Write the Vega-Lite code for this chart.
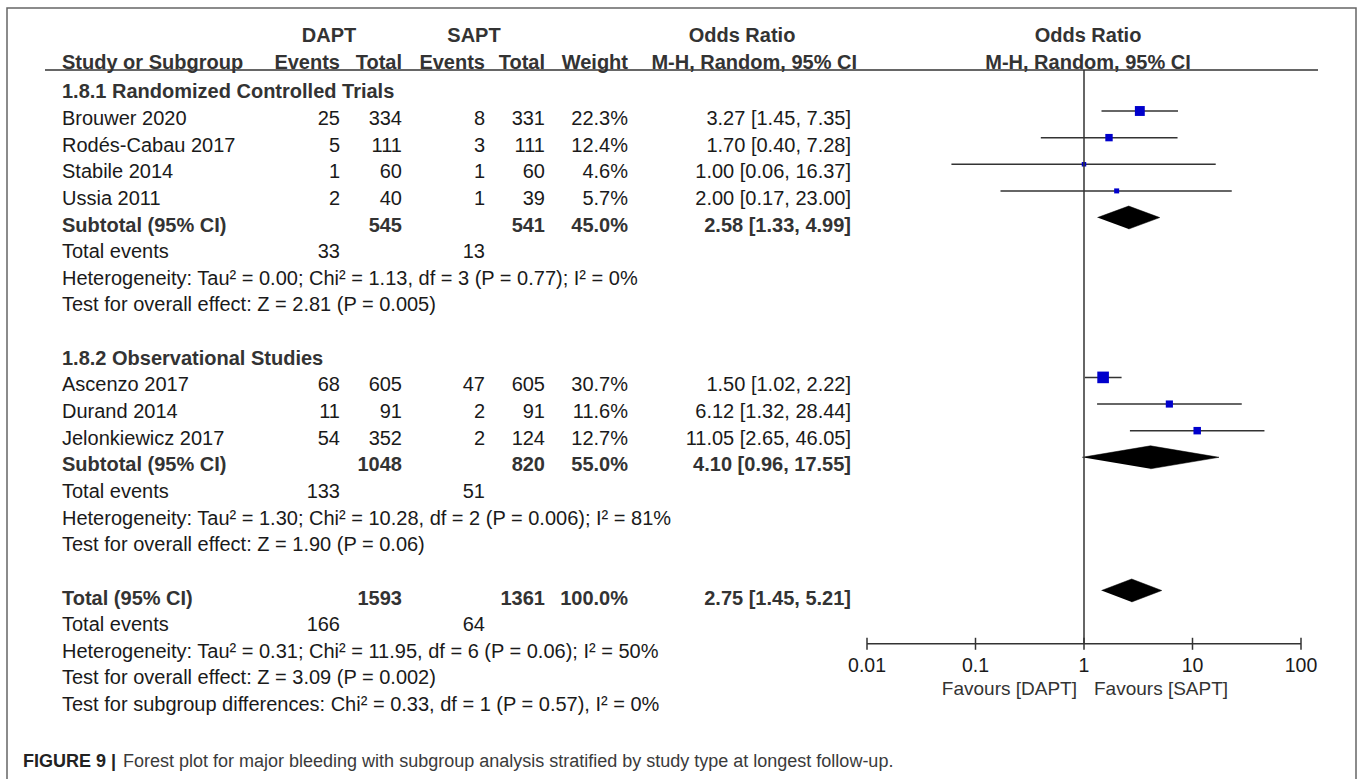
{
  "$schema": "https://vega.github.io/schema/vega-lite/v6.json",
  "width": 1349,
  "height": 783,
  "autosize": {"type": "none"},
  "padding": {"left": 7, "top": 8, "right": 1, "bottom": -12},
  "background": "white",
  "config": {
    "view": {"stroke": "#666666", "strokeWidth": 1.5},
    "text": {"font": "Liberation Sans", "fontSize": 20, "baseline": "middle", "color": "#1a1a1a"}
  },
  "datasets": {
    "cells": [
      {"row": 0, "col": 1, "kind": "grouphead", "text": "DAPT"},
      {"row": 0, "col": 3, "kind": "grouphead", "text": "SAPT"},
      {"row": 0, "col": 6, "kind": "orhead", "text": "Odds Ratio"},
      {"row": 1, "col": 0, "kind": "colhead", "text": "Study or Subgroup"},
      {"row": 1, "col": 1, "kind": "colhead", "text": "Events"},
      {"row": 1, "col": 2, "kind": "colhead", "text": "Total"},
      {"row": 1, "col": 3, "kind": "colhead", "text": "Events"},
      {"row": 1, "col": 4, "kind": "colhead", "text": "Total"},
      {"row": 1, "col": 5, "kind": "colhead", "text": "Weight"},
      {"row": 1, "col": 6, "kind": "mhhead", "text": "M-H, Random, 95% CI"},
      {"row": 2, "col": 0, "kind": "group", "text": "1.8.1 Randomized Controlled Trials"},
      {"row": 3, "col": 0, "kind": "study", "text": "Brouwer 2020"},
      {"row": 3, "col": 1, "kind": "study", "text": "25"},
      {"row": 3, "col": 2, "kind": "study", "text": "334"},
      {"row": 3, "col": 3, "kind": "study", "text": "8"},
      {"row": 3, "col": 4, "kind": "study", "text": "331"},
      {"row": 3, "col": 5, "kind": "study", "text": "22.3%"},
      {"row": 3, "col": 6, "kind": "study", "text": "3.27 [1.45, 7.35]"},
      {"row": 4, "col": 0, "kind": "study", "text": "Rodés-Cabau 2017"},
      {"row": 4, "col": 1, "kind": "study", "text": "5"},
      {"row": 4, "col": 2, "kind": "study", "text": "111"},
      {"row": 4, "col": 3, "kind": "study", "text": "3"},
      {"row": 4, "col": 4, "kind": "study", "text": "111"},
      {"row": 4, "col": 5, "kind": "study", "text": "12.4%"},
      {"row": 4, "col": 6, "kind": "study", "text": "1.70 [0.40, 7.28]"},
      {"row": 5, "col": 0, "kind": "study", "text": "Stabile 2014"},
      {"row": 5, "col": 1, "kind": "study", "text": "1"},
      {"row": 5, "col": 2, "kind": "study", "text": "60"},
      {"row": 5, "col": 3, "kind": "study", "text": "1"},
      {"row": 5, "col": 4, "kind": "study", "text": "60"},
      {"row": 5, "col": 5, "kind": "study", "text": "4.6%"},
      {"row": 5, "col": 6, "kind": "study", "text": "1.00 [0.06, 16.37]"},
      {"row": 6, "col": 0, "kind": "study", "text": "Ussia 2011"},
      {"row": 6, "col": 1, "kind": "study", "text": "2"},
      {"row": 6, "col": 2, "kind": "study", "text": "40"},
      {"row": 6, "col": 3, "kind": "study", "text": "1"},
      {"row": 6, "col": 4, "kind": "study", "text": "39"},
      {"row": 6, "col": 5, "kind": "study", "text": "5.7%"},
      {"row": 6, "col": 6, "kind": "study", "text": "2.00 [0.17, 23.00]"},
      {"row": 7, "col": 0, "kind": "sub", "text": "Subtotal (95% CI)"},
      {"row": 7, "col": 2, "kind": "sub", "text": "545"},
      {"row": 7, "col": 4, "kind": "sub", "text": "541"},
      {"row": 7, "col": 5, "kind": "sub", "text": "45.0%"},
      {"row": 7, "col": 6, "kind": "sub", "text": "2.58 [1.33, 4.99]"},
      {"row": 8, "col": 0, "kind": "events", "text": "Total events"},
      {"row": 8, "col": 1, "kind": "events", "text": "33"},
      {"row": 8, "col": 3, "kind": "events", "text": "13"},
      {"row": 9, "col": 0, "kind": "stat", "text": "Heterogeneity: Tau² = 0.00; Chi² = 1.13, df = 3 (P = 0.77); I² = 0%"},
      {"row": 10, "col": 0, "kind": "stat", "text": "Test for overall effect: Z = 2.81 (P = 0.005)"},
      {"row": 12, "col": 0, "kind": "group", "text": "1.8.2 Observational Studies"},
      {"row": 13, "col": 0, "kind": "study", "text": "Ascenzo 2017"},
      {"row": 13, "col": 1, "kind": "study", "text": "68"},
      {"row": 13, "col": 2, "kind": "study", "text": "605"},
      {"row": 13, "col": 3, "kind": "study", "text": "47"},
      {"row": 13, "col": 4, "kind": "study", "text": "605"},
      {"row": 13, "col": 5, "kind": "study", "text": "30.7%"},
      {"row": 13, "col": 6, "kind": "study", "text": "1.50 [1.02, 2.22]"},
      {"row": 14, "col": 0, "kind": "study", "text": "Durand 2014"},
      {"row": 14, "col": 1, "kind": "study", "text": "11"},
      {"row": 14, "col": 2, "kind": "study", "text": "91"},
      {"row": 14, "col": 3, "kind": "study", "text": "2"},
      {"row": 14, "col": 4, "kind": "study", "text": "91"},
      {"row": 14, "col": 5, "kind": "study", "text": "11.6%"},
      {"row": 14, "col": 6, "kind": "study", "text": "6.12 [1.32, 28.44]"},
      {"row": 15, "col": 0, "kind": "study", "text": "Jelonkiewicz 2017"},
      {"row": 15, "col": 1, "kind": "study", "text": "54"},
      {"row": 15, "col": 2, "kind": "study", "text": "352"},
      {"row": 15, "col": 3, "kind": "study", "text": "2"},
      {"row": 15, "col": 4, "kind": "study", "text": "124"},
      {"row": 15, "col": 5, "kind": "study", "text": "12.7%"},
      {"row": 15, "col": 6, "kind": "study", "text": "11.05 [2.65, 46.05]"},
      {"row": 16, "col": 0, "kind": "sub", "text": "Subtotal (95% CI)"},
      {"row": 16, "col": 2, "kind": "sub", "text": "1048"},
      {"row": 16, "col": 4, "kind": "sub", "text": "820"},
      {"row": 16, "col": 5, "kind": "sub", "text": "55.0%"},
      {"row": 16, "col": 6, "kind": "sub", "text": "4.10 [0.96, 17.55]"},
      {"row": 17, "col": 0, "kind": "events", "text": "Total events"},
      {"row": 17, "col": 1, "kind": "events", "text": "133"},
      {"row": 17, "col": 3, "kind": "events", "text": "51"},
      {"row": 18, "col": 0, "kind": "stat", "text": "Heterogeneity: Tau² = 1.30; Chi² = 10.28, df = 2 (P = 0.006); I² = 81%"},
      {"row": 19, "col": 0, "kind": "stat", "text": "Test for overall effect: Z = 1.90 (P = 0.06)"},
      {"row": 21, "col": 0, "kind": "sub", "text": "Total (95% CI)"},
      {"row": 21, "col": 2, "kind": "sub", "text": "1593"},
      {"row": 21, "col": 4, "kind": "sub", "text": "1361"},
      {"row": 21, "col": 5, "kind": "sub", "text": "100.0%"},
      {"row": 21, "col": 6, "kind": "sub", "text": "2.75 [1.45, 5.21]"},
      {"row": 22, "col": 0, "kind": "events", "text": "Total events"},
      {"row": 22, "col": 1, "kind": "events", "text": "166"},
      {"row": 22, "col": 3, "kind": "events", "text": "64"},
      {"row": 23, "col": 0, "kind": "stat", "text": "Heterogeneity: Tau² = 0.31; Chi² = 11.95, df = 6 (P = 0.06); I² = 50%"},
      {"row": 24, "col": 0, "kind": "stat", "text": "Test for overall effect: Z = 3.09 (P = 0.002)"},
      {"row": 25, "col": 0, "kind": "stat", "text": "Test for subgroup differences: Chi² = 0.33, df = 1 (P = 0.57), I² = 0%"},
      {"row": 27, "col": -2, "kind": "capbold", "text": "FIGURE 9 |"},
      {"row": 27, "col": -2, "kind": "cap", "text": "Forest plot for major bleeding with subgroup analysis stratified by study type at longest follow-up."}
    ],
    "studies": [
      {"row": 3, "study": "Brouwer 2020", "or": 3.27, "lo": 1.45, "hi": 7.35, "w": 22.3},
      {"row": 4, "study": "Rodés-Cabau 2017", "or": 1.70, "lo": 0.40, "hi": 7.28, "w": 12.4},
      {"row": 5, "study": "Stabile 2014", "or": 1.00, "lo": 0.06, "hi": 16.37, "w": 4.6},
      {"row": 6, "study": "Ussia 2011", "or": 2.00, "lo": 0.17, "hi": 23.00, "w": 5.7},
      {"row": 13, "study": "Ascenzo 2017", "or": 1.50, "lo": 1.02, "hi": 2.22, "w": 30.7},
      {"row": 14, "study": "Durand 2014", "or": 6.12, "lo": 1.32, "hi": 28.44, "w": 11.6},
      {"row": 15, "study": "Jelonkiewicz 2017", "or": 11.05, "lo": 2.65, "hi": 46.05, "w": 12.7}
    ],
    "diamonds": [
      {"g": "Subtotal 1.8.1", "row": 7, "x": 1.33, "v": 0, "k": 1},
      {"g": "Subtotal 1.8.1", "row": 7, "x": 2.58, "v": -1, "k": 2},
      {"g": "Subtotal 1.8.1", "row": 7, "x": 4.99, "v": 0, "k": 3},
      {"g": "Subtotal 1.8.1", "row": 7, "x": 2.58, "v": 1, "k": 4},
      {"g": "Subtotal 1.8.2", "row": 16, "x": 0.96, "v": 0, "k": 1},
      {"g": "Subtotal 1.8.2", "row": 16, "x": 4.10, "v": -1, "k": 2},
      {"g": "Subtotal 1.8.2", "row": 16, "x": 17.55, "v": 0, "k": 3},
      {"g": "Subtotal 1.8.2", "row": 16, "x": 4.10, "v": 1, "k": 4},
      {"g": "Total", "row": 21, "x": 1.45, "v": 0, "k": 1},
      {"g": "Total", "row": 21, "x": 2.75, "v": -1, "k": 2},
      {"g": "Total", "row": 21, "x": 5.21, "v": 0, "k": 3},
      {"g": "Total", "row": 21, "x": 2.75, "v": 1, "k": 4}
    ],
    "ticks": [
      {"v": 0.01, "label": "0.01"},
      {"v": 0.1, "label": "0.1"},
      {"v": 1, "label": "1"},
      {"v": 10, "label": "10"},
      {"v": 100, "label": "100"}
    ],
    "forestHead": [
      {"row": 0, "text": "Odds Ratio"},
      {"row": 1, "text": "M-H, Random, 95% CI"}
    ]
  },
  "layer": [
    {
      "layer": [
        {
          "data": {"name": "cells"},
          "transform": [{"filter": "datum.col <= 0 && (datum.kind == 'study' || datum.kind == 'events' || datum.kind == 'stat')"}],
          "mark": {"type": "text", "align": "left", "dy": 8},
          "encoding": {
            "x": {"field": "col", "type": "quantitative", "axis": null, "scale": {"domain": [-2, -1, 0, 1, 2, 3, 4, 5, 6, 7], "range": [16, 38, 55, 333, 395, 478, 538, 621, 844, 1311], "nice": false, "zero": false}},
            "y": {"field": "row", "type": "quantitative", "axis": null, "scale": {"domain": [-0.866, 28.526], "reverse": true, "nice": false, "zero": false}},
            "text": {"field": "text"}
          }
        },
        {
          "data": {"name": "cells"},
          "transform": [{"filter": "datum.col <= 0 && (datum.kind == 'group' || datum.kind == 'sub')"}],
          "mark": {"type": "text", "align": "left", "dy": 8, "fontWeight": "bold", "color": "#333333"},
          "encoding": {
            "x": {"field": "col", "type": "quantitative", "axis": null},
            "y": {"field": "row", "type": "quantitative", "axis": null},
            "text": {"field": "text"}
          }
        },
        {
          "data": {"name": "cells"},
          "transform": [{"filter": "datum.col > 0 && (datum.kind == 'study' || datum.kind == 'events')"}],
          "mark": {"type": "text", "align": "right", "dy": 8},
          "encoding": {
            "x": {"field": "col", "type": "quantitative", "axis": null},
            "y": {"field": "row", "type": "quantitative", "axis": null},
            "text": {"field": "text"}
          }
        },
        {
          "data": {"name": "cells"},
          "transform": [{"filter": "datum.col > 0 && datum.kind == 'sub'"}],
          "mark": {"type": "text", "align": "right", "dy": 8, "fontWeight": "bold", "color": "#333333"},
          "encoding": {
            "x": {"field": "col", "type": "quantitative", "axis": null},
            "y": {"field": "row", "type": "quantitative", "axis": null},
            "text": {"field": "text"}
          }
        },
        {
          "data": {"name": "cells"},
          "transform": [{"filter": "datum.kind == 'colhead' && datum.col == 0"}],
          "mark": {"type": "text", "align": "left", "dy": 5, "fontWeight": "bold", "color": "#333333"},
          "encoding": {
            "x": {"field": "col", "type": "quantitative", "axis": null},
            "y": {"field": "row", "type": "quantitative", "axis": null},
            "text": {"field": "text"}
          }
        },
        {
          "data": {"name": "cells"},
          "transform": [{"filter": "datum.kind == 'colhead' && datum.col > 0"}],
          "mark": {"type": "text", "align": "right", "dy": 5, "fontWeight": "bold", "color": "#333333"},
          "encoding": {
            "x": {"field": "col", "type": "quantitative", "axis": null},
            "y": {"field": "row", "type": "quantitative", "axis": null},
            "text": {"field": "text"}
          }
        },
        {
          "data": {"name": "cells"},
          "transform": [{"filter": "datum.kind == 'grouphead'"}],
          "mark": {"type": "text", "align": "center", "dx": -11, "dy": 5, "fontWeight": "bold", "color": "#333333"},
          "encoding": {
            "x": {"field": "col", "type": "quantitative", "axis": null},
            "y": {"field": "row", "type": "quantitative", "axis": null},
            "text": {"field": "text"}
          }
        },
        {
          "data": {"name": "cells"},
          "transform": [{"filter": "datum.kind == 'orhead'"}],
          "mark": {"type": "text", "align": "center", "dx": -109, "dy": 5, "fontWeight": "bold", "color": "#333333"},
          "encoding": {
            "x": {"field": "col", "type": "quantitative", "axis": null},
            "y": {"field": "row", "type": "quantitative", "axis": null},
            "text": {"field": "text"}
          }
        },
        {
          "data": {"name": "cells"},
          "transform": [{"filter": "datum.kind == 'mhhead'"}],
          "mark": {"type": "text", "align": "right", "dx": 6, "dy": 5, "fontWeight": "bold", "color": "#333333"},
          "encoding": {
            "x": {"field": "col", "type": "quantitative", "axis": null},
            "y": {"field": "row", "type": "quantitative", "axis": null},
            "text": {"field": "text"}
          }
        },
        {
          "data": {"name": "cells"},
          "transform": [{"filter": "datum.kind == 'capbold'"}],
          "mark": {"type": "text", "align": "left", "dy": 12, "fontSize": 18, "fontWeight": "bold", "color": "#222222"},
          "encoding": {
            "x": {"field": "col", "type": "quantitative", "axis": null},
            "y": {"field": "row", "type": "quantitative", "axis": null},
            "text": {"field": "text"}
          }
        },
        {
          "data": {"name": "cells"},
          "transform": [{"filter": "datum.kind == 'cap'"}],
          "mark": {"type": "text", "align": "left", "dx": 100, "dy": 12, "fontSize": 18, "color": "#3a3a3a"},
          "encoding": {
            "x": {"field": "col", "type": "quantitative", "axis": null},
            "y": {"field": "row", "type": "quantitative", "axis": null},
            "text": {"field": "text"}
          }
        },
        {
          "data": {"values": [{}]},
          "mark": {"type": "rule", "color": "#333333", "strokeWidth": 1.5},
          "encoding": {
            "x": {"datum": -1, "type": "quantitative", "axis": null},
            "x2": {"datum": 7},
            "y": {"datum": 1.46, "type": "quantitative", "axis": null}
          }
        }
      ]
    },
    {
      "layer": [
        {
          "data": {"name": "studies"},
          "mark": {"type": "rule", "color": "#333333", "strokeWidth": 1.5},
          "encoding": {
            "x": {"field": "lo", "type": "quantitative", "axis": null, "scale": {"type": "log", "domain": [0.01, 100], "range": [860, 1294], "nice": false}},
            "x2": {"field": "hi"},
            "y": {"field": "row", "type": "quantitative", "axis": null}
          }
        },
        {
          "data": {"name": "studies"},
          "mark": {"type": "point", "shape": "square", "filled": true, "color": "#0000cc", "opacity": 1},
          "encoding": {
            "x": {"field": "or", "type": "quantitative", "axis": null},
            "y": {"field": "row", "type": "quantitative", "axis": null},
            "size": {"field": "w", "type": "quantitative", "legend": null, "scale": {"domain": [0, 100], "range": [0, 440], "zero": true}}
          }
        },
        {
          "data": {"name": "diamonds"},
          "mark": {"type": "line", "fill": "#000000", "stroke": "#000000", "strokeWidth": 0.5, "interpolate": "linear", "yOffset": {"expr": "datum.v * 11.5"}},
          "encoding": {
            "x": {"field": "x", "type": "quantitative", "axis": null},
            "y": {"field": "row", "type": "quantitative", "axis": null},
            "detail": {"field": "g"},
            "order": {"field": "k"}
          }
        },
        {
          "data": {"values": [{}]},
          "mark": {"type": "rule", "color": "#333333", "strokeWidth": 1.5},
          "encoding": {
            "x": {"datum": 1, "type": "quantitative", "axis": null},
            "y": {"datum": 1.46, "type": "quantitative", "axis": null},
            "y2": {"datum": 23}
          }
        },
        {
          "data": {"values": [{}]},
          "mark": {"type": "rule", "color": "#333333", "strokeWidth": 1.5},
          "encoding": {
            "x": {"datum": 0.01, "type": "quantitative", "axis": null},
            "x2": {"datum": 100},
            "y": {"datum": 23, "type": "quantitative", "axis": null}
          }
        },
        {
          "data": {"name": "ticks"},
          "mark": {"type": "tick", "orient": "vertical", "color": "#333333", "size": 12, "thickness": 1.5, "opacity": 1},
          "encoding": {
            "x": {"field": "v", "type": "quantitative", "axis": null},
            "y": {"datum": 23, "type": "quantitative", "axis": null}
          }
        },
        {
          "data": {"name": "ticks"},
          "mark": {"type": "text", "align": "center", "dy": 22, "fontSize": 19.5},
          "encoding": {
            "x": {"field": "v", "type": "quantitative", "axis": null},
            "y": {"datum": 23, "type": "quantitative", "axis": null},
            "text": {"field": "label"}
          }
        },
        {
          "data": {"values": [{}]},
          "mark": {"type": "text", "align": "right", "dx": -7, "dy": 45, "fontSize": 19, "color": "#333333", "text": "Favours [DAPT]"},
          "encoding": {
            "x": {"datum": 1, "type": "quantitative", "axis": null},
            "y": {"datum": 23, "type": "quantitative", "axis": null}
          }
        },
        {
          "data": {"values": [{}]},
          "mark": {"type": "text", "align": "left", "dx": 10, "dy": 45, "fontSize": 19, "color": "#333333", "text": "Favours [SAPT]"},
          "encoding": {
            "x": {"datum": 1, "type": "quantitative", "axis": null},
            "y": {"datum": 23, "type": "quantitative", "axis": null}
          }
        },
        {
          "data": {"name": "forestHead"},
          "mark": {"type": "text", "align": "center", "dx": 4, "dy": 5, "fontWeight": "bold", "color": "#333333"},
          "encoding": {
            "x": {"datum": 1, "type": "quantitative", "axis": null},
            "y": {"field": "row", "type": "quantitative", "axis": null},
            "text": {"field": "text"}
          }
        }
      ]
    }
  ],
  "resolve": {"scale": {"x": "independent"}}
}
